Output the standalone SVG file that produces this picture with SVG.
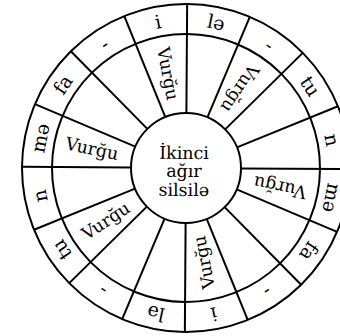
<svg xmlns="http://www.w3.org/2000/svg" width="340" height="336" viewBox="0 0 340 336">
<style>
.ln{stroke:#000;stroke-width:2;fill:none}
.o{font-family:"DejaVu Serif","Liberation Serif",serif;font-size:19px;fill:#000;text-anchor:middle;dominant-baseline:central}
.v{font-family:"DejaVu Serif","Liberation Serif",serif;font-size:17.5px;fill:#000;text-anchor:middle;dominant-baseline:central}
.c{font-family:"DejaVu Serif","Liberation Serif",serif;font-size:17.5px;fill:#000;text-anchor:middle}
</style>
<rect width="340" height="336" fill="#fff"/>
<g transform="rotate(0.4 186 168)">
<g id="connectors">
<circle class="ln" cx="186" cy="168" r="164"/>
<circle class="ln" cx="186" cy="168" r="134"/>
<g id="spokes">
<line class="ln" x1="186" y1="113" x2="186" y2="4" transform="rotate(0 186 168)"/>
<line class="ln" x1="186" y1="113" x2="186" y2="4" transform="rotate(22.5 186 168)"/>
<line class="ln" x1="186" y1="113" x2="186" y2="4" transform="rotate(45 186 168)"/>
<line class="ln" x1="186" y1="113" x2="186" y2="4" transform="rotate(67.5 186 168)"/>
<line class="ln" x1="186" y1="113" x2="186" y2="4" transform="rotate(90 186 168)"/>
<line class="ln" x1="186" y1="113" x2="186" y2="4" transform="rotate(112.5 186 168)"/>
<line class="ln" x1="186" y1="113" x2="186" y2="4" transform="rotate(135 186 168)"/>
<line class="ln" x1="186" y1="113" x2="186" y2="4" transform="rotate(157.5 186 168)"/>
<line class="ln" x1="186" y1="113" x2="186" y2="4" transform="rotate(180 186 168)"/>
<line class="ln" x1="186" y1="113" x2="186" y2="4" transform="rotate(202.5 186 168)"/>
<line class="ln" x1="186" y1="113" x2="186" y2="4" transform="rotate(225 186 168)"/>
<line class="ln" x1="186" y1="113" x2="186" y2="4" transform="rotate(247.5 186 168)"/>
<line class="ln" x1="186" y1="113" x2="186" y2="4" transform="rotate(270 186 168)"/>
<line class="ln" x1="186" y1="113" x2="186" y2="4" transform="rotate(292.5 186 168)"/>
<line class="ln" x1="186" y1="113" x2="186" y2="4" transform="rotate(315 186 168)"/>
<line class="ln" x1="186" y1="113" x2="186" y2="4" transform="rotate(337.5 186 168)"/>
</g>
</g>
<g id="center">
<circle class="ln" cx="186" cy="168" r="55"/>
<text class="c" x="184" y="159">İkinci</text>
<text class="c" x="184" y="177">ağır</text>
<text class="c" x="184" y="196">silsilə</text>
</g>
<g id="syllables">
<text class="o" x="186" y="19" transform="rotate(11.25 186 168)">lə</text>
<text class="o" x="186" y="19" transform="rotate(33.75 186 168)">-</text>
<text class="o" x="186" y="19" transform="rotate(56.25 186 168)">tu</text>
<text class="o" x="186" y="19" transform="rotate(78.75 186 168)">n</text>
<text class="o" x="186" y="19" transform="rotate(101.25 186 168)">mə</text>
<text class="o" x="186" y="19" transform="rotate(123.75 186 168)">fa</text>
<text class="o" x="186" y="19" transform="rotate(146.25 186 168)">-</text>
<text class="o" x="186" y="19" transform="rotate(168.75 186 168)">i</text>
<text class="o" x="186" y="19" transform="rotate(191.25 186 168)">lə</text>
<text class="o" x="186" y="19" transform="rotate(213.75 186 168)">-</text>
<text class="o" x="186" y="19" transform="rotate(236.25 186 168)">tu</text>
<text class="o" x="186" y="19" transform="rotate(258.75 186 168)">n</text>
<text class="o" x="186" y="19" transform="rotate(281.25 186 168)">mə</text>
<text class="o" x="186" y="19" transform="rotate(303.75 186 168)">fa</text>
<text class="o" x="186" y="19" transform="rotate(326.25 186 168)">-</text>
<text class="o" x="186" y="19" transform="rotate(348.75 186 168)">i</text>
</g>
<g id="stresses">
<text class="v" transform="translate(167.3 73.8) rotate(78.75)">Vurğu</text>
<text class="v" transform="translate(239.3 88.2) rotate(123.75)">Vurğu</text>
<text class="v" transform="translate(280.2 186.7) rotate(191.25)">Vurğu</text>
<text class="v" transform="translate(204.7 262.2) rotate(258.75)">Vurğu</text>
<text class="v" transform="translate(106.2 221.3) rotate(326.25)">Vurğu</text>
<text class="v" transform="translate(91.8 149.3) rotate(11.25)">Vurğu</text>
</g>
</g>
</svg>
